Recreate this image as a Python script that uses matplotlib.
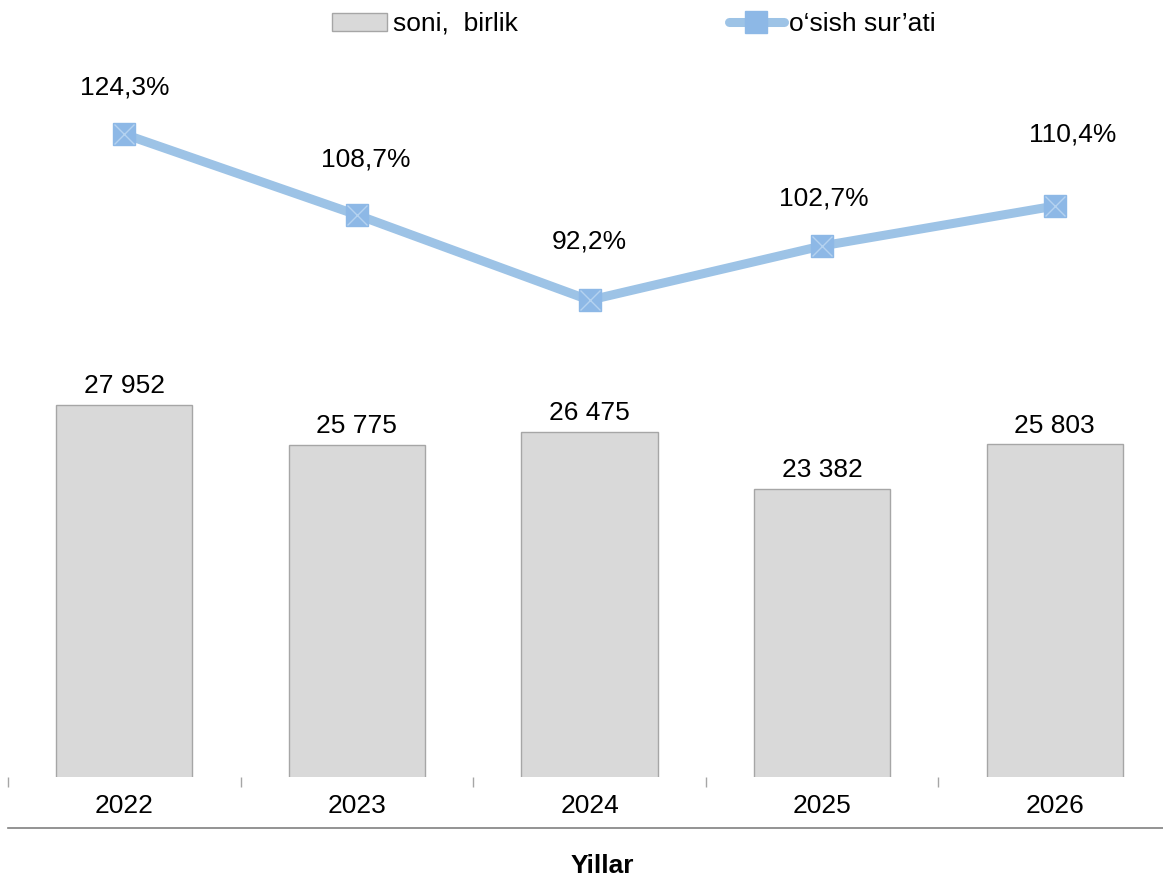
import matplotlib
matplotlib.use("Agg")
import matplotlib.pyplot as plt
from matplotlib.patches import Patch
from matplotlib.lines import Line2D

plt.rcParams['font.family'] = ['Liberation Sans', 'DejaVu Sans']

years = ['2022', '2023', '2024', '2025', '2026']
counts = [27952, 25775, 26475, 23382, 25803]
growth = [124.3, 108.7, 92.2, 102.7, 110.4]
count_labels = ['27 952', '25 775', '26 475', '23 382', '25 803']
growth_labels = ['124,3%', '108,7%', '92,2%', '102,7%', '110,4%']
growth_label_dy = [47, 55, 59, 47, 72]  # px above point
growth_label_dx = [0, 9, 0, 2, 18]      # px right of point

W, H = 1163, 877
fig = plt.figure(figsize=(W / 100, H / 100), dpi=100)

ax_left, ax_right = 8, 1171
ax_top, ax_bottom = 53, 777
ax = fig.add_axes([ax_left / W, 1 - ax_bottom / H, (ax_right - ax_left) / W, (ax_bottom - ax_top) / H])
ax2 = ax.twinx()

x = list(range(len(years)))
ax.bar(x, counts, width=0.585, color='#D9D9D9', edgecolor='#A6A6A6', linewidth=1, zorder=2)
ax.set_xlim(-0.5, len(years) - 0.5)
ax.set_ylim(7713, 47100)

for xi, v, lab in zip(x, counts, count_labels):
    ax.annotate(lab, (xi, v), xytext=(0, 5), textcoords='offset points',
                ha='center', va='bottom', fontsize=19, color='#000000')

line_color = '#9DC3E6'
marker_color = '#8DB8E6'
ax2.plot(x, growth, color=line_color, linewidth=6.5, solid_capstyle='butt', zorder=3)
ax2.plot(x, growth, linestyle='none', marker='s', markersize=16, markerfacecolor=marker_color,
         markeredgecolor=marker_color, zorder=4)
ax2.plot(x, growth, linestyle='none', marker='x', markersize=14, markeredgecolor='#B4D2F0',
         markeredgewidth=1.0, zorder=5)
ax2.set_ylim(0, 140)
for xi, v, lab, dy, dx in zip(x, growth, growth_labels, growth_label_dy, growth_label_dx):
    ax2.annotate(lab, (xi, v), xytext=(dx * 0.72, dy * 0.72), textcoords='offset points',
                 ha='center', va='center', fontsize=19, color='#000000')

for a in (ax, ax2):
    for s in a.spines.values():
        s.set_visible(False)
    a.set_yticks([])

ax.set_xticks(x)
ax.set_xticklabels(years, fontsize=19)
ax.tick_params(axis='x', which='major', length=0, pad=12)
ax.set_xticks([i - 0.5 for i in range(len(years) + 1)], minor=True)
ax.tick_params(axis='x', which='minor', length=7, width=1, color='#A6A6A6', direction='out', pad=2)

fig.add_artist(Line2D([8 / W, 1.0], [1 - 828 / H, 1 - 828 / H], color='#808080', linewidth=1.2))

fig.text(602 / W, 1 - 866 / H, 'Yillar', ha='center', va='center', fontsize=19, fontweight='bold')

handles = [Patch(facecolor='#D9D9D9', edgecolor='#A6A6A6', linewidth=1),
           Line2D([], [], color=line_color, linewidth=6.5, solid_capstyle='round', marker='s',
                  markersize=16, markerfacecolor=marker_color, markeredgecolor=marker_color)]
fig.legend(handles, ['soni,  birlik', 'o‘sish sur’ati'], loc='center', ncol=2,
           bbox_to_anchor=(634 / W, 1 - 24 / H), frameon=False, fontsize=19,
           handlelength=2.1, handletextpad=0.2, columnspacing=8.0, borderaxespad=0)

fig.savefig('out.png', dpi=100)
